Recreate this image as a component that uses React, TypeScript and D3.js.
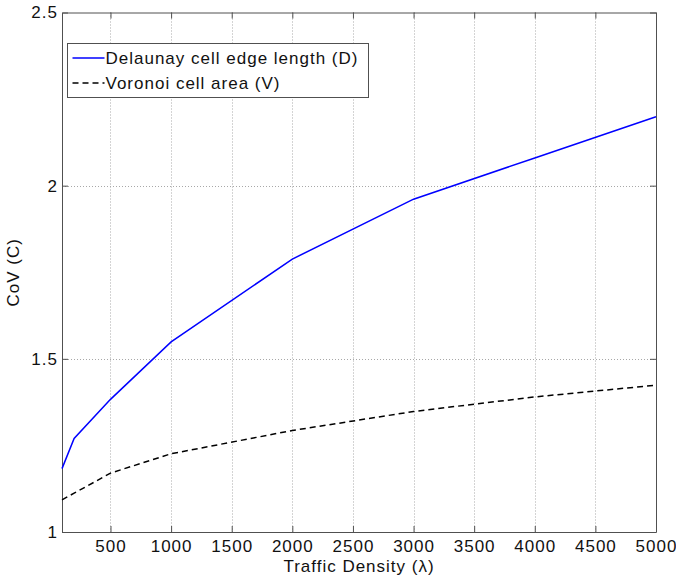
import React, { useEffect, useRef } from 'react';
import * as d3 from 'd3';

// traffic density values (λ) sampled by the simulation
const density = [100, 200, 500, 1000, 2000, 3000, 4000, 5000];
// CoV of Delaunay cell edge length
const delaunayCov = [1.183, 1.27, 1.383, 1.549, 1.788, 1.961, 2.08, 2.199];
// CoV of Voronoi cell area
const voronoiCov = [1.093, 1.112, 1.17, 1.226, 1.293, 1.348, 1.39, 1.424];

const xTicks = [500, 1000, 1500, 2000, 2500, 3000, 3500, 4000, 4500, 5000];
const yTicks = [1, 1.5, 2, 2.5];

const seriesNames = ['Delaunay cell edge length (D)', 'Voronoi cell area (V)'];

const W = 676, H = 582;
const M = { t: 12.5, r: 20, b: 50, l: 62 };
const FONT = '"Liberation Sans", Arial, sans-serif';
const FS = 17;

export default function App() {
  const ref = useRef<SVGSVGElement>(null);

  useEffect(() => {
    const svg = d3.select(ref.current);
    svg.selectAll('*').remove();

    const x = d3.scaleLinear().domain([100, 5000]).range([M.l, W - M.r]);
    const y = d3.scaleLinear().domain([1, 2.5]).range([H - M.b, M.t]);
    const x0 = x.range()[0], x1 = x.range()[1];
    const y0 = y.range()[0], y1 = y.range()[1];

    svg.append('rect').attr('width', W).attr('height', H).attr('fill', '#fff');

    /* grid */
    const grid = svg.append('g').attr('stroke', '#a8a8a8').attr('stroke-dasharray', '1,2').attr('stroke-width', 1);
    xTicks.filter(t => t < 5000).forEach(t => {
      grid.append('line').attr('x1', Math.round(x(t)) + 0.5).attr('x2', Math.round(x(t)) + 0.5).attr('y1', y1).attr('y2', y0);
    });
    yTicks.filter(t => t > 1 && t < 2.5).forEach(t => {
      grid.append('line').attr('y1', Math.round(y(t)) + 0.5).attr('y2', Math.round(y(t)) + 0.5).attr('x1', x0).attr('x2', x1);
    });

    /* axes (box with inward ticks) */
    const axisCol = '#505050';
    const txt = '#111';
    const bottom = svg.append('g').attr('transform', `translate(0,${y0})`)
      .call(d3.axisBottom(x).tickValues(xTicks).tickFormat(d3.format('d')).tickSizeInner(-6).tickSizeOuter(0).tickPadding(8));
    const left = svg.append('g').attr('transform', `translate(${x0},0)`)
      .call(d3.axisLeft(y).tickValues(yTicks).tickFormat(d3.format('~g')).tickSizeInner(-6).tickSizeOuter(0).tickPadding(4));
    const top = svg.append('g').attr('transform', `translate(0,${y1})`)
      .call(d3.axisTop(x).tickValues(xTicks).tickSizeInner(-6).tickSizeOuter(0).tickFormat(() => ''));
    const right = svg.append('g').attr('transform', `translate(${x1},0)`)
      .call(d3.axisRight(y).tickValues(yTicks).tickSizeInner(-6).tickSizeOuter(0).tickFormat(() => ''));
    [bottom, left, top, right].forEach(g => {
      g.selectAll('path,line').attr('stroke', axisCol);
      g.selectAll('text').attr('fill', txt).attr('font-family', FONT)
        .attr('font-size', FS).attr('letter-spacing', 1);
    });

    /* axis titles */
    svg.append('text')
      .attr('x', (x0 + x1) / 2).attr('y', H - 10)
      .attr('text-anchor', 'middle').attr('fill', txt)
      .attr('font-family', FONT).attr('font-size', FS).attr('letter-spacing', 1)
      .text('Traffic Density (λ)');
    svg.append('text')
      .attr('transform', `translate(19,${(y0 + y1) / 2}) rotate(-90)`)
      .attr('text-anchor', 'middle').attr('fill', txt)
      .attr('font-family', FONT).attr('font-size', FS).attr('letter-spacing', 1)
      .text('CoV (C)');

    /* lines */
    const line = d3.line<number>().x((_, i) => x(density[i])).y(d => y(d));
    svg.append('path').datum(delaunayCov)
      .attr('fill', 'none').attr('stroke', '#0000ff').attr('stroke-width', 1.5)
      .attr('d', line);
    svg.append('path').datum(voronoiCov)
      .attr('fill', 'none').attr('stroke', '#000').attr('stroke-width', 1.5)
      .attr('stroke-dasharray', '6,4')
      .attr('d', line);

    /* legend */
    const lg = svg.append('g').attr('transform', 'translate(67.5,43.5)');
    lg.append('rect').attr('width', 301).attr('height', 54)
      .attr('fill', '#fff').attr('stroke', axisCol).attr('stroke-width', 1);
    const styles = [
      { stroke: '#0000ff', dash: null },
      { stroke: '#000', dash: '6,4' }
    ];
    seriesNames.forEach((name, i) => {
      const cy = 14.5 + i * 25;
      lg.append('line').attr('x1', 5).attr('x2', 37).attr('y1', cy).attr('y2', cy)
        .attr('stroke', styles[i].stroke).attr('stroke-width', 1.5)
        .attr('stroke-dasharray', styles[i].dash);
      lg.append('text').attr('x', 38).attr('y', cy).attr('dy', '0.36em')
        .attr('fill', txt).attr('font-family', FONT).attr('font-size', FS)
        .attr('letter-spacing', 1)
        .text(name);
    });
  }, []);

  return (
    <svg ref={ref} width={W} height={H}
      style={{ position: 'absolute', left: 0, top: 0, display: 'block' }} />
  );
}
